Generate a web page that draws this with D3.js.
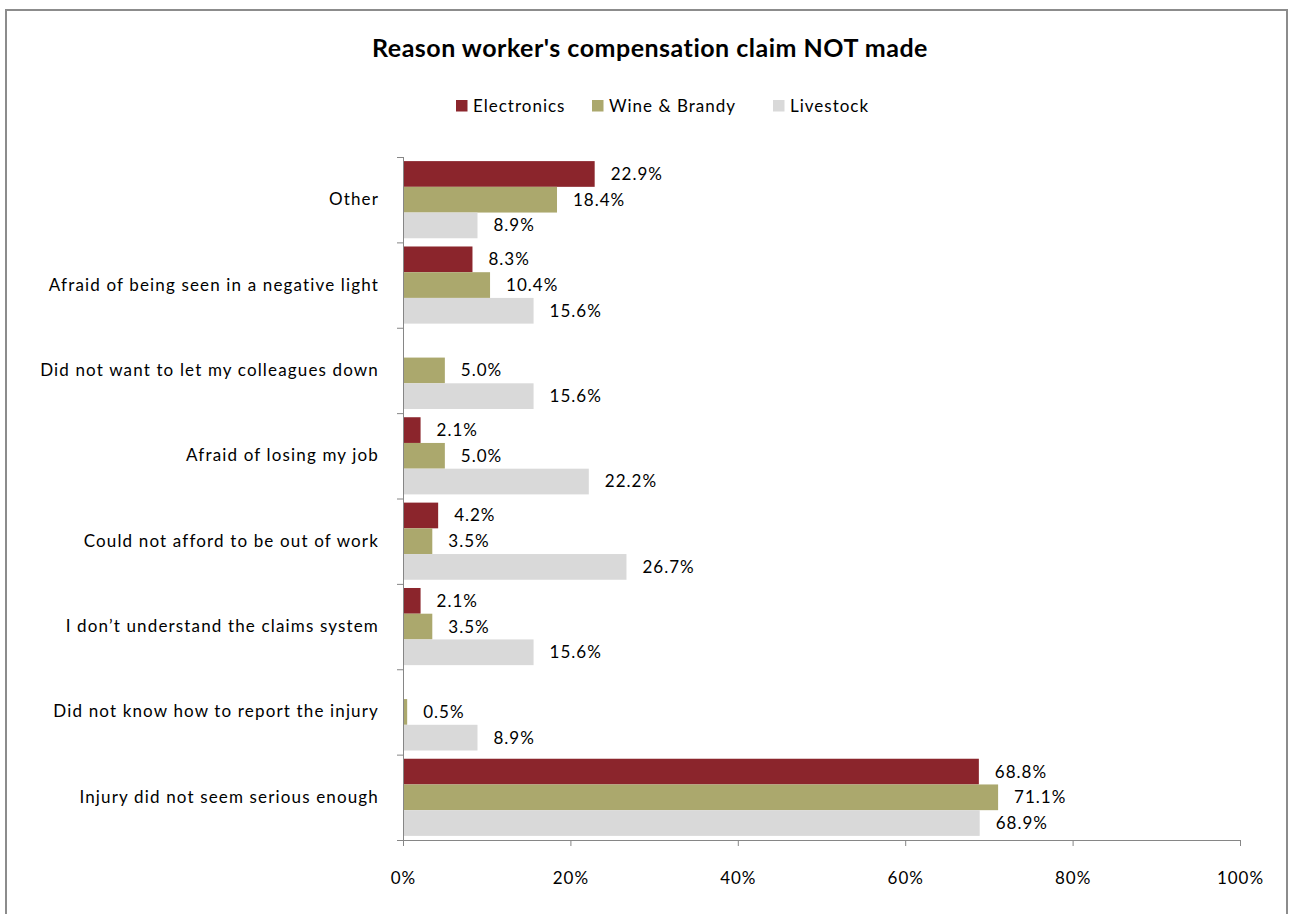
<!DOCTYPE html>
<html>
<head>
<meta charset="utf-8">
<script src="https://cdn.jsdelivr.net/npm/d3@7"></script>
<style>
  html, body { margin: 0; padding: 0; background: #fff; }
  svg { display: block; font-family: Lato, "Open Sans", sans-serif; }
</style>
</head>
<body>
<svg id="chart" width="1293" height="914"></svg>
<script>
// Reasons a worker's compensation claim was not made, by industry (percent of respondents)
const categories = [
  "Other",
  "Afraid of being seen in a negative light",
  "Did not want to let my colleagues down",
  "Afraid of losing my job",
  "Could not afford to be out of work",
  "I don\u2019t understand the claims system",
  "Did not know how to report the injury",
  "Injury did not seem serious enough"
];
const seriesNames = ["Electronics", "Wine & Brandy", "Livestock"];
const electronics = [22.9, 8.3, null, 2.1, 4.2, 2.1, null, 68.8];
const wineBrandy  = [18.4, 10.4, 5.0, 5.0, 3.5, 3.5, 0.5, 71.1];
const livestock   = [8.9, 15.6, 15.6, 22.2, 26.7, 15.6, 8.9, 68.9];
const xTicks = [0, 20, 40, 60, 80, 100];
const colors = ["#8B252C", "#ABA86D", "#D9D9D9"];

const seriesValues = [electronics, wineBrandy, livestock];

const FONT = 17;
const SPACING = 1;
const AXIS_GREY = "#868686";

const svg = d3.select("#chart");

// outer chart frame
svg.append("rect")
  .attr("x", 6).attr("y", 10)
  .attr("width", 1281).attr("height", 920)
  .attr("fill", "#fff")
  .attr("stroke", "#8c8c8c").attr("stroke-width", 2);

const plot = { left: 403, right: 1240, top: 157, bottom: 840 };

const x = d3.scaleLinear().domain([0, 100]).range([plot.left, plot.right]);
const y = d3.scaleBand().domain(categories).range([plot.top, plot.bottom]).paddingInner(0).paddingOuter(0);
const inner = d3.scaleBand().domain(seriesNames).range([0, y.bandwidth()]).paddingOuter(0.16).paddingInner(0);

// title
svg.append("text")
  .attr("x", 650).attr("y", 57)
  .attr("text-anchor", "middle")
  .attr("font-size", 25).attr("font-weight", "bold")
  .attr("letter-spacing", 0.5)
  .attr("fill", "#000")
  .text("Reason worker's compensation claim NOT made");

// legend
const legendX = [456, 592, 773];
seriesNames.forEach((name, i) => {
  const g = svg.append("g").attr("transform", `translate(${legendX[i]},106)`);
  g.append("rect").attr("x", 0).attr("y", -6).attr("width", 11.5).attr("height", 11.5).attr("fill", colors[i]);
  g.append("text").attr("x", 17).attr("y", 0).attr("dy", "0.35em")
    .attr("font-size", FONT).attr("letter-spacing", SPACING).attr("fill", "#000").text(name);
});

// bars and value labels
const fmt = d => d.toFixed(1) + "%";
seriesValues.forEach((vals, si) => {
  const rows = categories.map((c, i) => ({ c, v: vals[i] })).filter(d => d.v !== null);
  svg.append("g").selectAll("rect").data(rows).join("rect")
    .attr("x", x(0))
    .attr("y", d => y(d.c) + inner(seriesNames[si]))
    .attr("width", d => x(d.v) - x(0))
    .attr("height", inner.bandwidth())
    .attr("fill", colors[si]);
  svg.append("g").selectAll("text").data(rows).join("text")
    .attr("x", d => x(d.v) + 16)
    .attr("y", d => y(d.c) + inner(seriesNames[si]) + inner.bandwidth() / 2)
    .attr("dy", "0.35em")
    .attr("font-size", FONT).attr("letter-spacing", SPACING).attr("fill", "#000")
    .text(d => fmt(d.v));
});

// category axis
const yAxis = svg.append("g").attr("transform", `translate(${plot.left},0)`)
  .call(d3.axisLeft(y).tickSize(0).tickPadding(24))
  .attr("font-family", null).attr("font-size", null);
yAxis.select(".domain").attr("stroke", AXIS_GREY).attr("d", `M0.5,${plot.top}V${plot.bottom}`);
yAxis.selectAll("text").attr("font-size", FONT).attr("letter-spacing", 1.15).attr("fill", "#000");
// boundary tick marks between categories
const bounds = categories.map(c => y(c)).concat([plot.bottom]);
yAxis.selectAll(".bound").data(bounds).join("line").attr("class", "bound")
  .attr("x1", -6).attr("x2", 0).attr("y1", d => d + 0.5).attr("y2", d => d + 0.5)
  .attr("stroke", AXIS_GREY);

// value axis
const xAxis = svg.append("g").attr("transform", `translate(0,${plot.bottom})`)
  .call(d3.axisBottom(x).tickValues(xTicks).tickFormat(d => d + "%").tickSize(6).tickPadding(26))
  .attr("font-family", null).attr("font-size", null);
xAxis.select(".domain").attr("stroke", AXIS_GREY);
xAxis.selectAll(".tick line").attr("stroke", AXIS_GREY);
xAxis.selectAll("text").attr("font-size", FONT).attr("letter-spacing", SPACING).attr("fill", "#000");
</script>
</body>
</html>
